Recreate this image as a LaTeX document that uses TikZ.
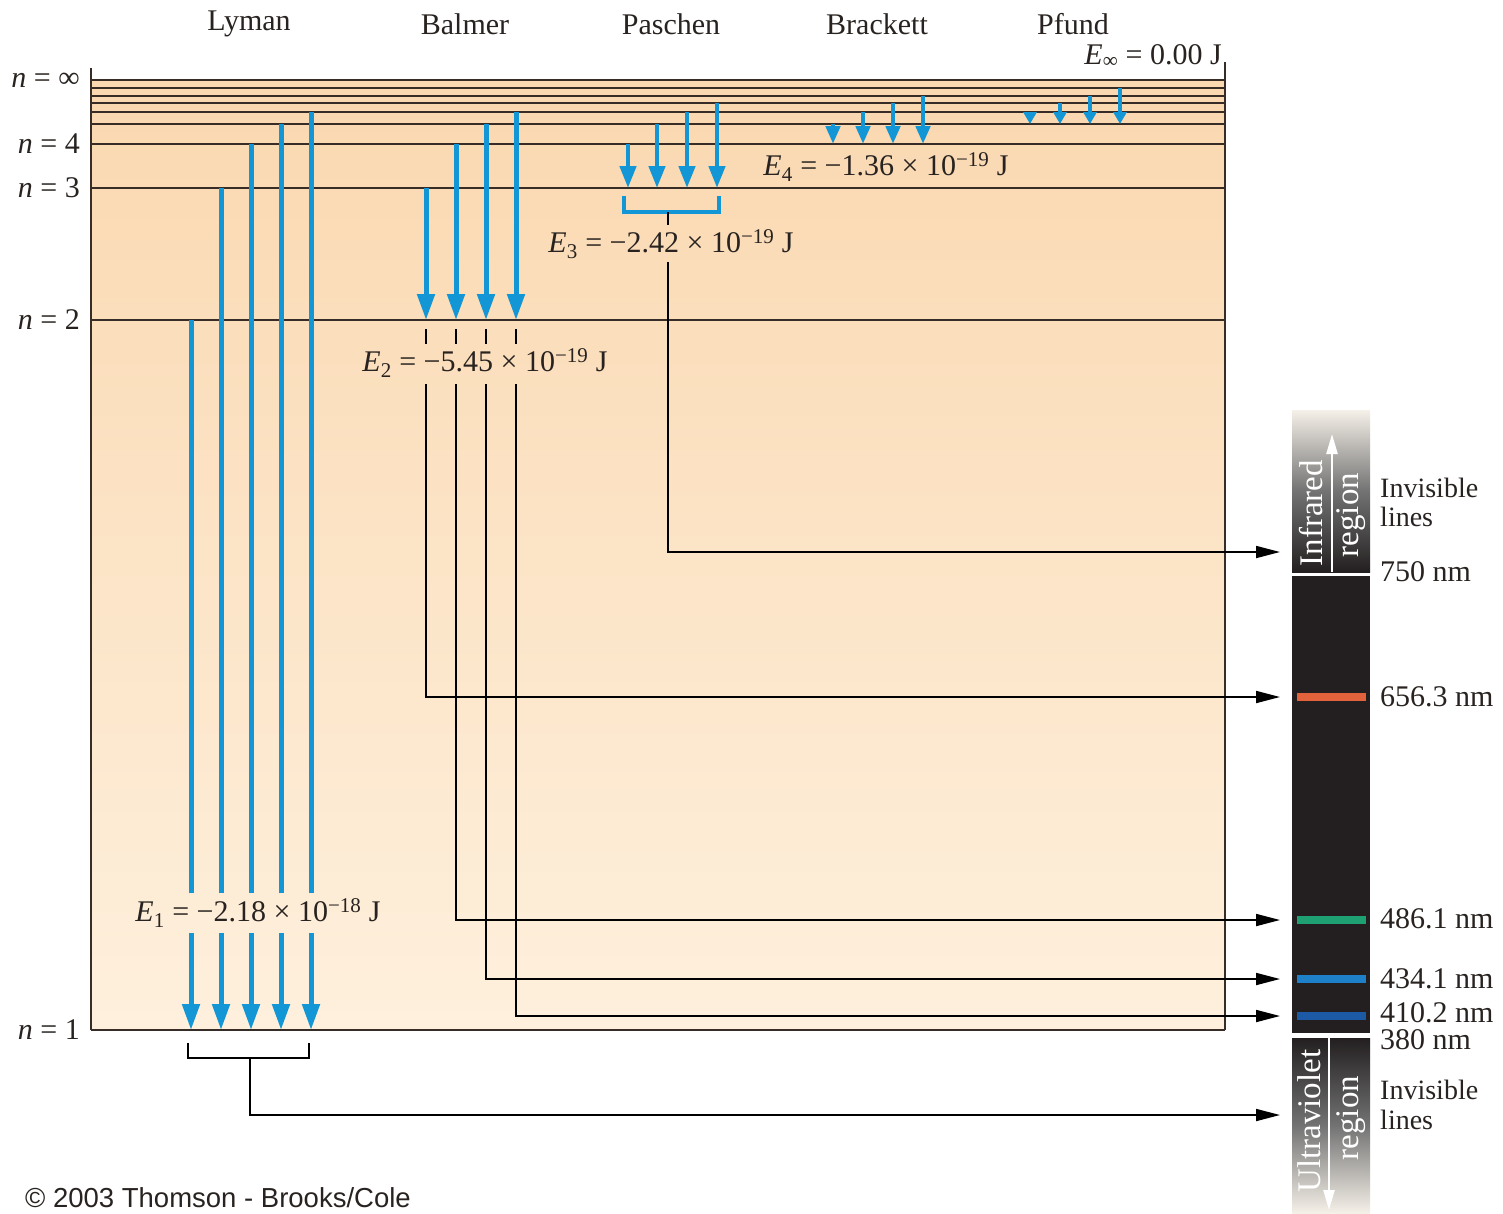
\documentclass[tikz,border=0pt]{standalone}
\usepackage{fontspec}
\setmainfont{Liberation Serif}
\newfontfamily\copyf{Liberation Sans}
\usetikzlibrary{arrows.meta}
\definecolor{peachtop}{RGB}{250,216,176}
\definecolor{peachbot}{RGB}{254,240,221}
\definecolor{lvl}{RGB}{55,45,38}
\definecolor{phot}{RGB}{18,150,214}
\definecolor{specbk}{RGB}{35,31,32}
\definecolor{speclt}{RGB}{245,240,232}
\definecolor{lred}{RGB}{226,98,60}
\definecolor{lgreen}{RGB}{30,160,115}
\definecolor{lblue}{RGB}{30,128,200}
\definecolor{ldblue}{RGB}{28,90,165}
\definecolor{txt}{RGB}{40,35,32}
\begin{document}
\begin{tikzpicture}[x=1pt,y=-1pt,
  lab/.style={font=\fontsize{30}{34}\selectfont, inner sep=0pt, text=txt},
  wlab/.style={font=\fontsize{33}{36}\selectfont, inner sep=0pt, text=white, rotate=90},
  level/.style={draw=lvl, line width=1.6pt},
  shaft/.style={draw=phot, line width=5pt},
  bigph/.style={draw=phot, line width=5pt, -{Triangle[length=26pt,width=17pt]}},
  midph/.style={draw=phot, line width=4.5pt, -{Triangle[length=22pt,width=16pt]}},
  brph/.style={draw=phot, line width=4.5pt, -{Triangle[length=18pt,width=14pt]}},
  pfph/.style={draw=phot, line width=4pt, -{Triangle[length=12pt,width=13pt]}},
  conn/.style={draw=black, line width=1.8pt, -{Triangle[length=24pt,width=12pt]}},
  tick/.style={draw=black, line width=1.8pt}
]
\useasboundingbox (0,0) rectangle (1503,1213);
% background
\shade[top color=peachtop, bottom color=peachbot] (91,80) rectangle (1225,1030);
% frame
\draw[level] (91,68) -- (91,1030);
\draw[level] (1225,62) -- (1225,1030);
% levels
\foreach \y in {80,88,96,103,112,124,144,188,320,1030}
  \draw[level] (91,\y) -- (1225,\y);
% level labels
\node[lab, anchor=east] (ninf) at (80,80) {\textit{n} = ∞};
\node[lab, anchor=east] (nfour) at (80,144) {\textit{n} = 4};
\node[lab, anchor=east] (nthree) at (80,188) {\textit{n} = 3};
\node[lab, anchor=east] (ntwo) at (80,320) {\textit{n} = 2};
\node[lab, anchor=east] (none) at (80,1030) {\textit{n} = 1};
% series titles
\node[lab] (lyman) at (249,24) {Lyman};
\node[lab] (balmer) at (465,24) {Balmer};
\node[lab] (paschen) at (671,24) {Paschen};
\node[lab] (brackett) at (877,24) {Brackett};
\node[lab] (pfund) at (1073,24) {Pfund};
% energy labels
\node[lab, anchor=east] (Einf) at (1222,56) {\textit{E}\textsubscript{∞} = 0.00 J};
\node[lab] (E4) at (886,167) {\textit{E}\textsubscript{4} = −1.36 × 10\textsuperscript{−19} J};
\node[lab] (E3) at (671,244) {\textit{E}\textsubscript{3} = −2.42 × 10\textsuperscript{−19} J};
\node[lab] (E2) at (485,363) {\textit{E}\textsubscript{2} = −5.45 × 10\textsuperscript{−19} J};
\node[lab] (E1) at (258,913) {\textit{E}\textsubscript{1} = −2.18 × 10\textsuperscript{−18} J};
% Lyman
\foreach \x/\s in {191/320,221/188,251/144,281/124,311/112}{
  \draw[shaft] (\x,\s) -- (\x,893);
  \draw[bigph] (\x,933) -- (\x,1030);
}
% Balmer
\foreach \x/\s in {426/188,456/144,486/124,516/112}
  \draw[bigph] (\x,\s) -- (\x,320);
% Paschen
\foreach \x/\s in {628/144,657/124,687/112,717/103}
  \draw[midph] (\x,\s) -- (\x,188);
% Brackett
\foreach \x/\s in {833/124,863/112,893/103,923/96}
  \draw[brph] (\x,\s) -- (\x,144);
% Pfund
\foreach \x/\s in {1030/112,1060/103,1090/96,1120/88}
  \draw[pfph] (\x,\s) -- (\x,124);
% Paschen bracket and connector
\draw[draw=phot, line width=4pt] (624,196) -- (624,212) -- (719,212) -- (719,196);
\draw[tick] (668,212) -- (668,225);
\coordinate (tIR) at (1280,552);
\draw[conn] (668,262) |- (tIR);
% Balmer ticks and connectors
\foreach \x in {426,456,486,516}
  \draw[tick] (\x,329) -- (\x,344);
\coordinate (t656) at (1280,697);
\coordinate (t486) at (1280,920);
\coordinate (t434) at (1280,979);
\coordinate (t410) at (1280,1016);
\draw[conn] (426,384) |- (t656);
\draw[conn] (456,384) |- (t486);
\draw[conn] (486,384) |- (t434);
\draw[conn] (516,384) |- (t410);
% Lyman bracket and connector
\draw[tick] (188,1043) -- (188,1058) -- (309,1058) -- (309,1043);
\coordinate (tUV) at (1280,1115);
\draw[conn] (250,1058) |- (tUV);
% spectrum bar
\shade[top color=speclt, bottom color=specbk, middle color=black!55] (1292,410) rectangle (1370,572);
\fill[specbk] (1292,576) rectangle (1370,1033);
\shade[top color=specbk, bottom color=speclt, middle color=black!55] (1292,1038) rectangle (1370,1213);
\draw[white, line width=2.5pt, -{Triangle[length=20pt,width=11pt]}] (1332,572) -- (1332,434);
\draw[white, line width=2.5pt, -{Triangle[length=20pt,width=11pt]}] (1329,1038) -- (1329,1210);
\node[wlab] (ir1) at (1311,513) {Infrared};
\node[wlab] (ir2) at (1351,515) {region};
\node[wlab] (uv1) at (1309,1121) {Ultraviolet};
\node[wlab] (uv2) at (1351,1118) {region};
% spectral lines
\fill[lred] (1297,693) rectangle (1366,701);
\fill[lgreen] (1297,916) rectangle (1366,924);
\fill[lblue] (1297,975) rectangle (1366,983);
\fill[ldblue] (1297,1012) rectangle (1366,1020);
% right labels
\node[lab, anchor=west, font=\fontsize{28}{30}\selectfont] (inv1) at (1380,488) {Invisible};
\node[lab, anchor=west, font=\fontsize{28}{30}\selectfont] (lin1) at (1380,517) {lines};
\node[lab, anchor=west] (w750) at (1380,572) {750 nm};
\node[lab, anchor=west] (w656) at (1380,697) {656.3 nm};
\node[lab, anchor=west] (w486) at (1380,919) {486.1 nm};
\node[lab, anchor=west] (w434) at (1380,979) {434.1 nm};
\node[lab, anchor=west] (w410) at (1380,1013) {410.2 nm};
\node[lab, anchor=west] (w380) at (1380,1040) {380 nm};
\node[lab, anchor=west, font=\fontsize{28}{30}\selectfont] (inv2) at (1380,1090) {Invisible};
\node[lab, anchor=west, font=\fontsize{28}{30}\selectfont] (lin2) at (1380,1120) {lines};
% copyright
\node[anchor=west, inner sep=0pt, font=\copyf\fontsize{27.5}{30}\selectfont, text=txt] (copy) at (25,1198) {© 2003 Thomson - Brooks/Cole};
\end{tikzpicture}
\end{document}
